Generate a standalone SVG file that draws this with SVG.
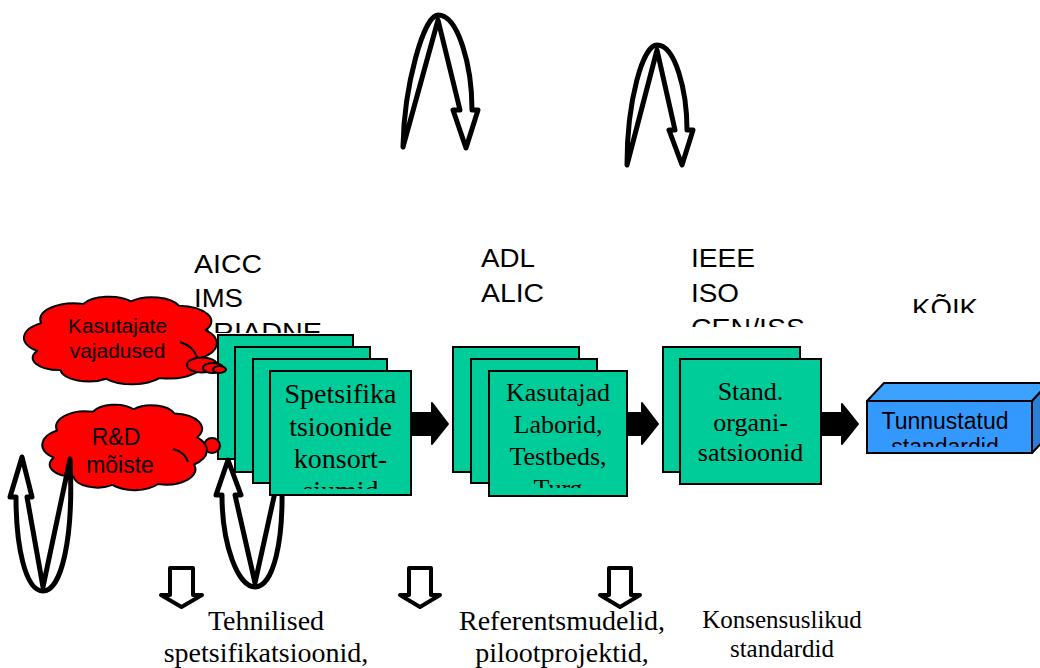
<svg xmlns="http://www.w3.org/2000/svg" width="1040" height="668" viewBox="0 0 1040 668">
<style>
.box{fill:#00CC99;stroke:#000;stroke-width:2}
.lbl{font-family:"Liberation Sans",Arial,sans-serif;font-size:26px;fill:#000}
.sans{font-family:"Liberation Sans",Arial,sans-serif;fill:#000}
.serif{font-family:"Liberation Serif","Times New Roman",serif;fill:#000}
.cloud{fill:#FF0000;stroke:#000;stroke-width:2;stroke-linejoin:round}
.inner{fill:none;stroke:#000;stroke-width:2}
.curve{fill:#fff;stroke:#000;stroke-width:5;stroke-linejoin:round}
.block{fill:#000;stroke:#000;stroke-width:2;stroke-linejoin:round}
.down{fill:#fff;stroke:#000;stroke-width:4;stroke-linejoin:round}
</style>
<defs>
<clipPath id="clipAicc"><rect x="180" y="230" width="220" height="103"/></clipPath>
<clipPath id="clipIeee"><rect x="680" y="230" width="200" height="97"/></clipPath>
<clipPath id="clipKoik"><rect x="900" y="280" width="120" height="33"/></clipPath>
<clipPath id="clipSpets"><rect x="271" y="372" width="139" height="117"/></clipPath>
<clipPath id="clipKasut"><rect x="490" y="372" width="136" height="116"/></clipPath>
<clipPath id="clipTunn"><rect x="868" y="402" width="163" height="45"/></clipPath>
<clipPath id="clipArr4"><path d="M200,440 H263 V496 H300 V600 H200 Z"/></clipPath>
</defs>
<rect x="0" y="0" width="1040" height="668" fill="#fff"/>

<g id="labels">
<g id="label-aicc" clip-path="url(#clipAicc)">
<text class="lbl" x="194" y="273" textLength="68" lengthAdjust="spacingAndGlyphs">AICC</text>
<text class="lbl" x="194" y="307" textLength="49" lengthAdjust="spacingAndGlyphs">IMS</text>
<text class="lbl" x="194" y="341" textLength="128" lengthAdjust="spacingAndGlyphs">ARIADNE</text>
</g>
<g id="label-adl">
<text class="lbl" x="481" y="267" textLength="54" lengthAdjust="spacingAndGlyphs">ADL</text>
<text class="lbl" x="481" y="302" textLength="63" lengthAdjust="spacingAndGlyphs">ALIC</text>
</g>
<g id="label-ieee" clip-path="url(#clipIeee)">
<text class="lbl" x="691" y="267" textLength="64" lengthAdjust="spacingAndGlyphs">IEEE</text>
<text class="lbl" x="691" y="302" textLength="48" lengthAdjust="spacingAndGlyphs">ISO</text>
<text class="lbl" x="691" y="337" textLength="114" lengthAdjust="spacingAndGlyphs">CEN/ISS</text>
</g>
<g id="label-koik" clip-path="url(#clipKoik)">
<text class="lbl" x="912" y="317" textLength="66" lengthAdjust="spacingAndGlyphs">KÕIK</text>
</g>
</g>

<g id="node-spetsifikatsioonid">
<rect class="box" x="218" y="335" width="135" height="124"/>
<rect class="box" x="235" y="347" width="135" height="125"/>
<rect class="box" x="253" y="359" width="134" height="124"/>
<rect class="box" x="270" y="371" width="141" height="124"/>
<g clip-path="url(#clipSpets)" class="serif" font-size="28" text-anchor="middle">
<text x="340.5" y="403">Spetsifika</text>
<text x="340.5" y="436">tsioonide</text>
<text x="340.5" y="468">konsort-</text>
<text x="340.5" y="500">siumid</text>
</g>
</g>

<g id="node-kasutajad">
<rect class="box" x="453" y="347" width="126" height="125"/>
<rect class="box" x="471" y="359" width="126" height="124"/>
<rect class="box" x="489" y="371" width="138" height="125"/>
<g clip-path="url(#clipKasut)" class="serif" font-size="26" text-anchor="middle">
<text x="558" y="401">Kasutajad</text>
<text x="558" y="433">Laborid,</text>
<text x="558" y="465">Testbeds,</text>
<text x="558" y="497">Turg</text>
</g>
</g>

<g id="node-stand">
<rect class="box" x="663" y="347" width="137" height="125"/>
<rect class="box" x="680" y="359" width="141" height="125"/>
<g class="serif" font-size="26" text-anchor="middle">
<text x="750.5" y="400">Stand.</text>
<text x="750.5" y="431">organi-</text>
<text x="750.5" y="461">satsioonid</text>
</g>
</g>

<g id="node-tunnustatud">
<polygon points="867,401 884,383 1049,383 1032,401" fill="#3DA2FF" stroke="#000" stroke-width="2" stroke-linejoin="round"/>
<polygon points="1032,401 1049,383 1049,435 1032,453" fill="#2B80D6" stroke="#000" stroke-width="2" stroke-linejoin="round"/>
<rect x="867" y="401" width="165" height="52" fill="#3399FF" stroke="#000" stroke-width="2"/>
<g clip-path="url(#clipTunn)" class="sans" font-size="23" text-anchor="middle">
<text x="945" y="429">Tunnustatud</text>
<text x="945" y="455">standardid</text>
</g>
</g>

<g id="node-kasutajate-vajadused">
<path class="cloud" transform="translate(26,297) scale(1.91,0.87)" vector-effect="non-scaling-stroke" d="M6,62 A20,20 0 0 1 8,30 A18,18 0 0 1 30,8 A15,15 0 0 1 55,5 A15,15 0 0 1 80,10 A18,18 0 0 1 94,38 A22,22 0 0 1 92,70 A18,18 0 0 1 70,93 A18,18 0 0 1 42,94 A15,15 0 0 1 18,84 A14,14 0 0 1 6,62 Z"/>
<path class="inner" d="M180,342 Q193,346 197,357"/>
<ellipse class="cloud" cx="202" cy="365" rx="15" ry="7.5"/>
<ellipse class="cloud" cx="213" cy="368" rx="10" ry="5"/>
<ellipse class="cloud" cx="219.5" cy="369.5" rx="6.5" ry="3.5"/>
<g class="sans" font-size="21" text-anchor="middle">
<text x="117.5" y="333">Kasutajate</text>
<text x="117.5" y="358">vajadused</text>
</g>
</g>

<g id="node-rd-moiste">
<ellipse class="cloud" cx="212" cy="445.5" rx="8" ry="7.5"/>
<path class="cloud" transform="translate(44,405) scale(1.63,0.85)" vector-effect="non-scaling-stroke" d="M6,62 A20,20 0 0 1 8,30 A18,18 0 0 1 30,8 A15,15 0 0 1 55,5 A15,15 0 0 1 80,10 A18,18 0 0 1 94,38 A22,22 0 0 1 92,70 A18,18 0 0 1 70,93 A18,18 0 0 1 42,94 A15,15 0 0 1 18,84 A14,14 0 0 1 6,62 Z"/>
<path class="inner" d="M173,449 Q185,452 188,462"/>
<g class="sans" font-size="23" text-anchor="middle">
<text x="116" y="445">R&amp;D</text>
<text x="120" y="473">mõiste</text>
</g>
</g>

<g id="connectors">
<path class="block" d="M411,413 H432 V403 L448,424 L432,444 V435 H411 Z"/>
<path class="block" d="M627,413 H642 V403 L658,424 L642,444 V435 H627 Z"/>
<path class="block" d="M821,413 H842 V404 L858,424 L842,444 V435 H821 Z"/>
<path class="curve" d="M403,147 C404,85 424,15 438,15 C458,15 472,65 472,110 L478,110 L466,148 L453,110 L460,110 L438,20 Z"/>
<path class="curve" d="M627,165 C627,100 643,45 657,45 C675,45 687,90 687,130 L693,130 L682,165 L669,130 L675,130 L657,50 Z"/>
<path class="curve" d="M70,459 C74,540 61,591 43,591 C25,591 16,545 16,497 L10,497 L22,457 L32,497 L27,497 L43,587 Z"/>
<path class="curve" clip-path="url(#clipArr4)" d="M281,465 C286,545 272,587 255,587 C238,587 222,545 222,495 L216,495 L228,460 L241,495 L235,495 L255,583 Z"/>
<path class="down" d="M170,568 H193 V595 H202 L181.5,607 L161,595 H170 Z"/>
<path class="down" d="M409,568 H431 V595 H440 L420,607 L400,595 H409 Z"/>
<path class="down" d="M609,568 H631 V595 H640 L620,607 L600,595 H609 Z"/>
</g>

<g id="bottom-texts" class="serif" text-anchor="middle">
<text x="266" y="630" font-size="28">Tehnilised</text>
<text x="266" y="662" font-size="28">spetsifikatsioonid,</text>
<text x="562" y="630" font-size="28">Referentsmudelid,</text>
<text x="562" y="662" font-size="28">pilootprojektid,</text>
<text x="782" y="628" font-size="25">Konsensuslikud</text>
<text x="782" y="657" font-size="25">standardid</text>
</g>
</svg>
